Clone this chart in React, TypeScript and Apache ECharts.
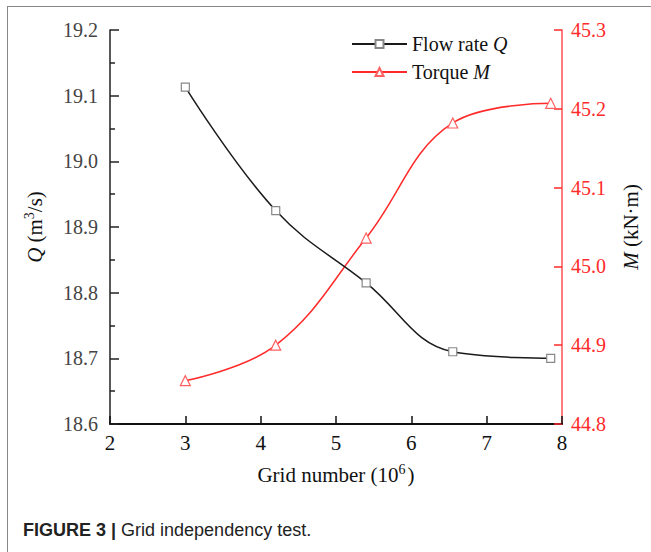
import React, { useEffect, useRef } from "react";
import * as echarts from "echarts";

const gridNumbers = [3.0, 4.2, 5.4, 6.55, 7.85];
const flowRate = [19.113, 18.925, 18.815, 18.71, 18.7];
const torque = [44.855, 44.9, 45.036, 45.182, 45.207];

const SERIF = "Liberation Serif";
const RED = "#ff2a2a";

export default function App() {
  const ref = useRef<HTMLDivElement>(null);
  useEffect(() => {
    if (!ref.current) return;
    const chart = echarts.init(ref.current, null, { renderer: "svg" });
    chart.setOption({
      animation: false,
      grid: { left: 110, right: 89, top: 30, bottom: 128 },
      legend: {
        orient: "vertical",
        left: 346,
        top: 29,
        itemWidth: 55,
        itemHeight: 10,
        itemGap: 8,
        data: ["Flow rate Q", "Torque M"],
        formatter: (name: string) =>
          name === "Flow rate Q" ? "Flow rate {i|Q}" : "Torque {i|M}",
        textStyle: {
          fontFamily: SERIF,
          fontSize: 20,
          color: "#111",
          rich: { i: { fontStyle: "italic" } },
        },
      },
      xAxis: {
        type: "value",
        min: 2,
        max: 8,
        interval: 1,
        name: "Grid number (10{s|6})",
        nameLocation: "middle",
        nameGap: 38,
        nameTextStyle: {
          fontFamily: SERIF,
          fontSize: 21,
          color: "#111",
          rich: { s: { fontSize: 14, verticalAlign: "top", padding: [0, 2, 12, 0] } },
        },
        axisLine: { lineStyle: { color: "#111", width: 2 } },
        axisTick: { inside: true, length: 8, lineStyle: { color: "#111", width: 1.5 } },
        axisLabel: { fontSize: 21, fontFamily: SERIF, color: "#111", margin: 8 },
        splitLine: { show: false },
      },
      yAxis: [
        {
          type: "value",
          min: 18.6,
          max: 19.2,
          interval: 0.1,
          position: "left",
          name: "{i|Q} (m{s|3}/s)",
          nameLocation: "middle",
          nameGap: 62,
          nameTextStyle: {
            fontFamily: SERIF,
            fontSize: 21,
            color: "#111",
            rich: { i: { fontStyle: "italic" }, s: { fontSize: 14, verticalAlign: "top", padding: [0, 0, 12, 0] } },
          },
          axisLine: { show: true, lineStyle: { color: "#222", width: 1.5 } },
          axisTick: { inside: true, length: 9, lineStyle: { color: "#222", width: 1.5 } },
          minorTick: { show: true, splitNumber: 2, length: 5, lineStyle: { color: "#222", width: 1.5 } },
          axisLabel: { fontSize: 20, fontFamily: SERIF, color: "#444", margin: 12, formatter: (v: number) => v.toFixed(1) },
          splitLine: { show: false },
        },
        {
          type: "value",
          min: 44.8,
          max: 45.3,
          interval: 0.1,
          position: "right",
          name: "{i|M} (kN·m)",
          nameLocation: "middle",
          nameGap: 58,
          nameRotate: 90,
          nameTextStyle: {
            fontFamily: SERIF,
            fontSize: 21,
            color: "#111",
            rich: { i: { fontStyle: "italic" } },
          },
          axisLine: { show: true, lineStyle: { color: "#ff5050", width: 1.5 } },
          axisTick: { inside: true, length: 8, lineStyle: { color: RED, width: 1.5 } },
          axisLabel: { fontSize: 20, fontFamily: SERIF, color: RED, margin: 9, formatter: (v: number) => v.toFixed(1) },
          splitLine: { show: false },
        },
      ],
      series: [
        {
          name: "Flow rate Q",
          type: "line",
          yAxisIndex: 0,
          smooth: 0.4,
          data: gridNumbers.map((x, i) => [x, flowRate[i]]),
          symbol: "rect",
          symbolSize: 8,
          lineStyle: { color: "#1a1a1a", width: 1.5 },
          itemStyle: { color: "#fff", borderColor: "#888", borderWidth: 1.2 },
          z: 3,
        },
        {
          name: "Torque M",
          type: "line",
          yAxisIndex: 1,
          smooth: 0.4,
          data: gridNumbers.map((x, i) => [x, torque[i]]),
          symbol: "triangle",
          symbolSize: 10,
          lineStyle: { color: RED, width: 1.5 },
          itemStyle: { color: "#fff", borderColor: "#ff6060", borderWidth: 1.2 },
          z: 2,
        },
      ],
    });
    return () => chart.dispose();
  }, []);
  return (
    <div
      style={{
        position: "fixed",
        left: 0,
        top: 0,
        width: 651,
        height: 552,
        background: "#fff",
        overflow: "hidden",
      }}
    >
      <div
        style={{
          position: "absolute",
          left: 7,
          top: 6,
          width: 700,
          height: 600,
          borderLeft: "1.5px solid #888",
          borderTop: "1.5px solid #888",
        }}
      />
      <div ref={ref} style={{ position: "absolute", left: 0, top: 0, width: 651, height: 552 }} />
      <div
        style={{
          position: "absolute",
          left: 23,
          top: 520,
          lineHeight: "20px",
          fontFamily: "'Liberation Sans', Arial, sans-serif",
          fontSize: 18,
          color: "#222",
          whiteSpace: "nowrap",
        }}
      >
        <b>FIGURE 3 |</b> Grid independency test.
      </div>
    </div>
  );
}
